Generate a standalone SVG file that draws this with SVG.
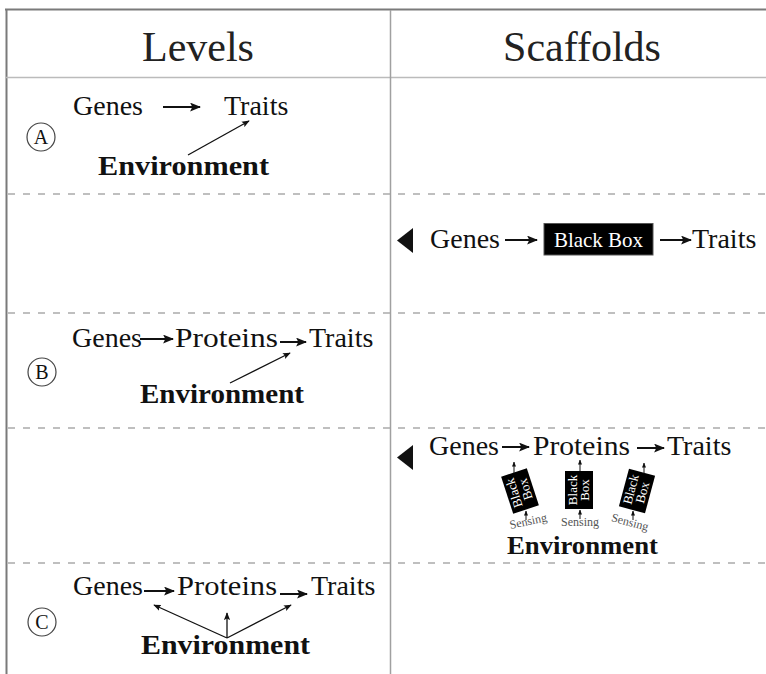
<svg xmlns="http://www.w3.org/2000/svg" width="766" height="674" viewBox="0 0 766 674">
  <style>
    text { font-family: "Liberation Serif", "Times New Roman", serif; fill: #111; }
    .hdr { font-size: 42px; fill: #222; }
    .lbl { font-size: 28px; }
    .env { font-size: 28px; font-weight: bold; }
    .env-s { font-size: 26px; font-weight: bold; }
    .circ { fill: none; stroke: #444; stroke-width: 1.2; }
    .clet { font-size: 20px; text-anchor: middle; }
    .flow { stroke: #111; stroke-width: 2; fill: none; marker-end: url(#head); }
    .thin { stroke: #111; stroke-width: 1.3; fill: none; marker-end: url(#headThin); }
    .tiny { stroke: #111; stroke-width: 1; fill: none; marker-end: url(#headTiny); }
    .dash { stroke: #aaa; stroke-width: 1.5; stroke-dasharray: 7 8; }
    .bbtxt { fill: #fff; font-size: 13px; text-anchor: middle; }
    .sens { fill: #555; font-size: 12px; text-anchor: middle; }
  </style>
  <defs>
    <marker id="head" viewBox="0 0 10 8" refX="9" refY="4" markerWidth="5.5" markerHeight="4.5" markerUnits="strokeWidth" orient="auto">
      <path d="M0,0 L10,4 L0,8 L2,4 z" fill="#111"/>
    </marker>
    <marker id="headThin" viewBox="0 0 10 8" refX="9" refY="4" markerWidth="6" markerHeight="5" markerUnits="strokeWidth" orient="auto">
      <path d="M0,0 L10,4 L0,8 L2,4 z" fill="#111"/>
    </marker>
    <marker id="headTiny" viewBox="0 0 10 8" refX="9" refY="4" markerWidth="5" markerHeight="5" markerUnits="strokeWidth" orient="auto">
      <path d="M0,0 L10,4 L0,8 z" fill="#111"/>
    </marker>
  </defs>

  <rect width="766" height="674" fill="#fff"/>

  <!-- table frame -->
  <g id="frame">
    <line x1="5" y1="9.5" x2="766" y2="9.5" stroke="#7a7a7a" stroke-width="2"/>
    <line x1="6.5" y1="9" x2="6.5" y2="674" stroke="#7a7a7a" stroke-width="2"/>
    <line x1="6" y1="77.5" x2="766" y2="77.5" stroke="#bbb" stroke-width="1.5"/>
    <line x1="390.5" y1="10" x2="390.5" y2="674" stroke="#a0a0a0" stroke-width="1.5"/>
    <line class="dash" x1="8" y1="194" x2="766" y2="194"/>
    <line class="dash" x1="8" y1="313" x2="766" y2="313"/>
    <line class="dash" x1="8" y1="428" x2="766" y2="428"/>
    <line class="dash" x1="8" y1="563" x2="766" y2="563"/>
  </g>

  <!-- column headers -->
  <g id="headers">
    <text class="hdr" x="198" y="61" text-anchor="middle">Levels</text>
    <text class="hdr" x="582" y="61" text-anchor="middle">Scaffolds</text>
  </g>

  <!-- Level A -->
  <g id="levelA">
    <circle class="circ" cx="41" cy="137" r="14"/>
    <text class="clet" x="41" y="144">A</text>
    <text class="lbl" x="73" y="115">Genes</text>
    <text class="lbl" x="224" y="115">Traits</text>
    <text class="env" x="98" y="175" textLength="171" lengthAdjust="spacingAndGlyphs">Environment</text>
  </g>

  <!-- Scaffold 1: black box -->
  <g id="scaffold1">
    <path d="M413,228 L397,240.5 L413,253 z" fill="#111"/>
    <text class="lbl" x="430" y="248">Genes</text>
    <rect x="544" y="223.5" width="109" height="31.5" fill="#000" stroke="#555" stroke-width="1"/>
    <text x="598.5" y="246.5" font-size="21" text-anchor="middle" style="fill:#fff">Black Box</text>
    <text class="lbl" x="692" y="248">Traits</text>
  </g>

  <!-- Level B -->
  <g id="levelB">
    <circle class="circ" cx="42" cy="372" r="14"/>
    <text class="clet" x="42" y="379">B</text>
    <text class="lbl" x="72" y="347">Genes</text>
    <text class="lbl" x="175" y="347" textLength="103" lengthAdjust="spacingAndGlyphs">Proteins</text>
    <text class="lbl" x="309" y="347">Traits</text>
    <text class="env" x="140" y="403" textLength="164" lengthAdjust="spacingAndGlyphs">Environment</text>
  </g>

  <!-- Scaffold 2: sensing black boxes -->
  <g id="scaffold2">
    <path d="M413,445 L397,457.5 L413,470 z" fill="#111"/>
    <text class="lbl" x="429" y="455">Genes</text>
    <text class="lbl" x="533" y="455" textLength="97" lengthAdjust="spacingAndGlyphs">Proteins</text>
    <text class="lbl" x="667" y="455">Traits</text>

    <g id="box1" transform="translate(520,491) rotate(-18)">
      <rect x="-13.5" y="-19.5" width="27" height="39" fill="#000"/>
      <g transform="rotate(-90)">
        <text class="bbtxt" x="0" y="-2">Black</text>
        <text class="bbtxt" x="0" y="10">Box</text>
      </g>
    </g>
    <g id="box2" transform="translate(579,490)">
      <rect x="-14" y="-19" width="28" height="38" fill="#000"/>
      <g transform="rotate(-90)">
        <text class="bbtxt" x="0" y="-2">Black</text>
        <text class="bbtxt" x="0" y="10">Box</text>
      </g>
    </g>
    <g id="box3" transform="translate(637,491) rotate(15)">
      <rect x="-13.5" y="-19.5" width="27" height="39" fill="#000"/>
      <g transform="rotate(-90)">
        <text class="bbtxt" x="0" y="-2">Black</text>
        <text class="bbtxt" x="0" y="10">Box</text>
      </g>
    </g>

    <text class="sens" transform="translate(529,525) rotate(-12)">Sensing</text>
    <text class="sens" transform="translate(580,526)">Sensing</text>
    <text class="sens" transform="translate(629,526) rotate(15)">Sensing</text>

    <text class="env-s" x="507" y="554" textLength="151" lengthAdjust="spacingAndGlyphs">Environment</text>
  </g>

  <!-- Level C -->
  <g id="levelC">
    <circle class="circ" cx="42" cy="622" r="14"/>
    <text class="clet" x="42" y="629">C</text>
    <text class="lbl" x="73" y="595">Genes</text>
    <text class="lbl" x="177" y="595" textLength="100" lengthAdjust="spacingAndGlyphs">Proteins</text>
    <text class="lbl" x="311" y="595">Traits</text>
    <text class="env" x="141" y="654" textLength="169" lengthAdjust="spacingAndGlyphs">Environment</text>
  </g>

  <!-- connectors -->
  <g id="connectors">
    <!-- level A -->
    <line class="flow" x1="163" y1="107" x2="200" y2="107"/>
    <line class="thin" x1="188" y1="155" x2="249" y2="121"/>
    <!-- scaffold 1 -->
    <line class="flow" x1="505" y1="240" x2="537" y2="240"/>
    <line class="flow" x1="660" y1="240" x2="691" y2="240"/>
    <!-- level B -->
    <line class="flow" x1="140" y1="339" x2="173" y2="339"/>
    <line class="flow" x1="280" y1="342" x2="306" y2="342"/>
    <line class="thin" x1="230" y1="383" x2="290" y2="353"/>
    <!-- scaffold 2 -->
    <line class="flow" x1="502" y1="447" x2="529" y2="447"/>
    <line class="flow" x1="637" y1="448" x2="664" y2="448"/>
    <line class="tiny" x1="514" y1="473" x2="514" y2="462"/>
    <line class="tiny" x1="580" y1="471" x2="580" y2="460"/>
    <line class="tiny" x1="644" y1="474" x2="644" y2="463"/>
    <line class="tiny" x1="526" y1="520" x2="526" y2="511"/>
    <line class="tiny" x1="580" y1="519" x2="580" y2="510"/>
    <line class="tiny" x1="633" y1="520" x2="633" y2="511"/>
    <!-- level C -->
    <line class="flow" x1="144" y1="591" x2="174" y2="591"/>
    <line class="flow" x1="280" y1="594" x2="307" y2="594"/>
    <line class="thin" x1="227" y1="638" x2="154" y2="605"/>
    <line class="thin" x1="227" y1="638" x2="227" y2="613"/>
    <line class="thin" x1="227" y1="638" x2="291" y2="605"/>
  </g>
</svg>
